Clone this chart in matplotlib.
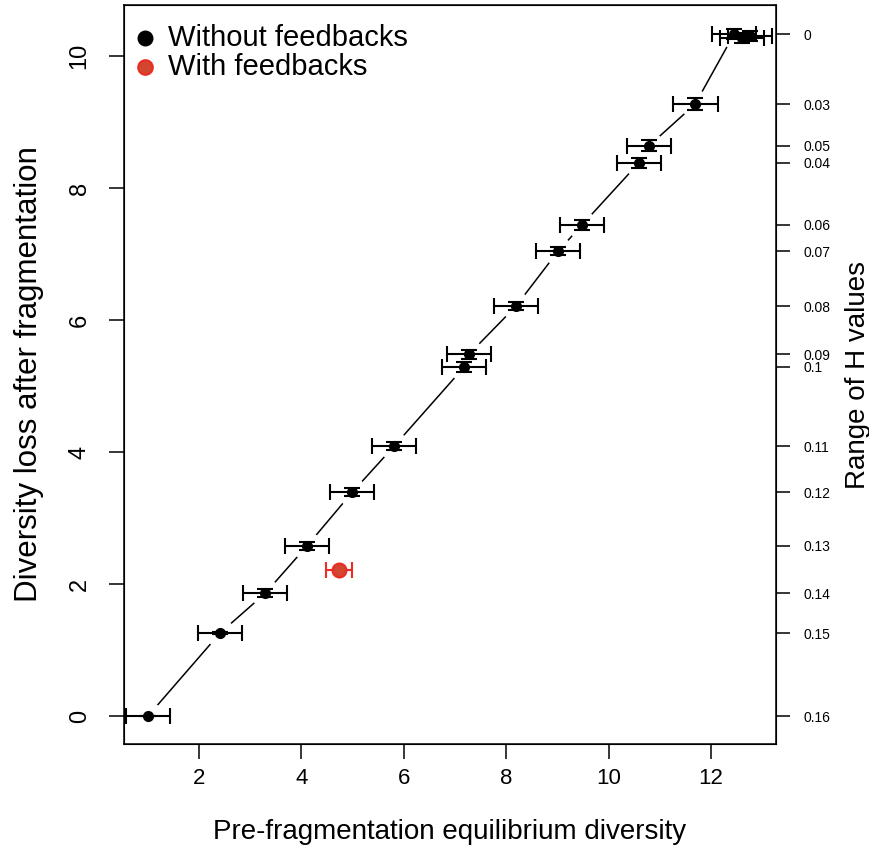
import matplotlib
matplotlib.use("Agg")
import matplotlib.pyplot as plt
import numpy as np

plt.rcParams['font.family'] = ['Liberation Sans', 'DejaVu Sans']

# Simulated communities without feedbacks, one per H value
diversity = [1.00, 2.41, 3.29, 4.11, 4.99, 5.81, 7.18, 7.27, 8.19, 9.01,
             9.48, 10.59, 10.79, 11.69, 12.45, 12.61, 12.77]
loss = [0.00, 1.26, 1.86, 2.58, 3.39, 4.09, 5.29, 5.48, 6.21, 7.04,
        7.44, 8.38, 8.64, 9.27, 10.33, 10.27, 10.30]
diversity_err = [0.43, 0.42, 0.43, 0.43, 0.43, 0.43, 0.43, 0.43, 0.43, 0.43,
                 0.43, 0.43, 0.43, 0.44, 0.43, 0.43, 0.43]
loss_err = [0.0, 0.02, 0.06, 0.06, 0.06, 0.06, 0.07, 0.07, 0.06, 0.06,
            0.07, 0.08, 0.08, 0.09, 0.08, 0.08, 0.08]
h_values = [0.16, 0.15, 0.14, 0.13, 0.12, 0.11, 0.10, 0.09, 0.08, 0.07,
            0.06, 0.04, 0.05, 0.03, 0.00, 0.01, 0.02]
# labels that would overlap on the right axis are left blank
h_labels = ["0.16", "0.15", "0.14", "0.13", "0.12", "0.11", "0.1", "0.09",
            "0.08", "0.07", "0.06", "0.04", "0.05", "0.03", "0", "", ""]

# Community with feedbacks
fb_diversity = [4.73]
fb_loss = [2.21]
fb_diversity_err = [0.25]

RED = "#ee2a24"
RED_FILL = "#d2452f"

fig = plt.figure(figsize=(8.69, 8.5), dpi=100)
ax = fig.add_axes([0.1427, 0.1247, 0.7503, 0.8693])

order = np.argsort(diversity)
xs = np.array(diversity)[order]
ys = np.array(loss)[order]

# connecting line, broken around each point
ax.plot(xs, ys, color="black", lw=1.1, zorder=1)
ax.plot(xs, ys, ls="none", marker="o", ms=20, mfc="white", mec="white", zorder=2)

ax.errorbar(diversity, loss, xerr=diversity_err, yerr=loss_err, fmt="o",
            color="black", ms=7, elinewidth=1.5, capsize=6, capthick=1.5,
            zorder=3)
ax.errorbar(fb_diversity, fb_loss, xerr=fb_diversity_err, fmt="o",
            color=RED, mfc=RED_FILL, mec=RED, mew=1.5, ms=10,
            elinewidth=1.5, capsize=6, capthick=1.5, zorder=3)

ax.set_xlim(0.535, 13.27)
ax.set_ylim(-0.42, 10.77)
ax.set_xticks([2, 4, 6, 8, 10, 12])
ax.set_yticks([0, 2, 4, 6, 8, 10])
ax.tick_params(axis="both", direction="out", length=11, width=1.1)
ax.tick_params(axis="x", labelsize=16, pad=6)
ax.tick_params(axis="y", labelsize=17, pad=13)
for lab in ax.get_yticklabels():
    lab.set_rotation(90)
    lab.set_va("center")
for sp in ax.spines.values():
    sp.set_linewidth(1.1)

ax.set_xlabel("Pre-fragmentation equilibrium diversity", fontsize=20, labelpad=22)
ax.set_ylabel("Diversity loss after fragmentation", fontsize=22.5, labelpad=18)

ax2 = ax.twinx()
ax2.set_ylim(ax.get_ylim())
tick_pos = [v for v, s in zip(loss, h_labels) if s]
tick_lab = [s for s in h_labels if s]
ax2.set_yticks(tick_pos, tick_lab)
ax2.tick_params(axis="y", direction="out", length=10, width=1.1,
                labelsize=10, pad=10)
ax2.set_ylabel("Range of H values", fontsize=20, labelpad=10)

h1 = ax.scatter([], [], s=110, color="black")
h2 = ax.scatter([], [], s=110, color=RED_FILL, edgecolor=RED, linewidth=1.5)
ax.legend([h1, h2], ["Without feedbacks", "With feedbacks"], loc="upper left",
          bbox_to_anchor=(0.0138, 0.975), frameon=False, fontsize=21,
          handletextpad=0.41, labelspacing=0.05, borderaxespad=0.0,
          handlelength=0.8, borderpad=0.0)

fig.savefig("out.png", dpi=100)
